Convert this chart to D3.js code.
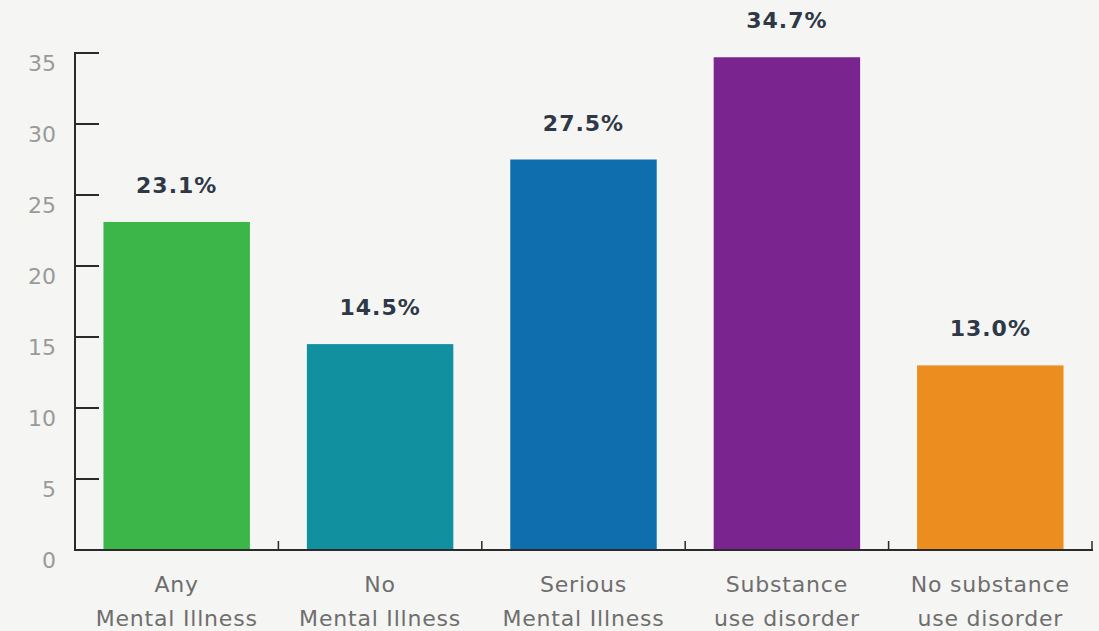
<!DOCTYPE html>
<html>
<head>
<meta charset="utf-8">
<script src="https://cdn.jsdelivr.net/npm/d3@7"></script>
<style>
  html, body { margin: 0; padding: 0; background: #f5f5f3; }
  svg { display: block; }
</style>
</head>
<body>
<div class="svg-container"></div>
<script>
// data
var categories = ['any', 'noMental', 'serious', 'substance', 'noSubstance'];
var labelLine1 = ['Any', 'No', 'Serious', 'Substance', 'No substance'];
var labelLine2 = ['Mental Illness', 'Mental Illness', 'Mental Illness', 'use disorder', 'use disorder'];
var values = [23.1, 14.5, 27.5, 34.7, 13.0];
var barColors = ['#3cb649', '#11909f', '#0f6fae', '#7a2490', '#ec8d1f'];
var yTicks = [0, 5, 10, 15, 20, 25, 30, 35];

function draw() {
  "use strict";
  var width = 1099;
  var height = 631;

  var svg = d3.select('.svg-container')
      .append('svg')
      .attr('width', width)
      .attr('height', height);

  svg.append('rect')
      .attr('width', width)
      .attr('height', height)
      .attr('fill', '#f5f5f3');

  var x = d3.scaleBand()
      .domain(categories)
      .range([75, 1092])
      .paddingInner(0.28)
      .paddingOuter(0.14);

  var y = d3.scaleLinear()
      .domain([0, 35])
      .range([550, 53]);

  var step = x.step();

  //bars
  svg.append('g').attr('class', 'bars')
      .selectAll('rect')
      .data(values)
      .enter().append('rect')
      .attr('x', function(d, i) { return x(categories[i]); })
      .attr('y', function(d) { return y(d); })
      .attr('width', x.bandwidth())
      .attr('height', function(d) { return y(0) - y(d); })
      .attr('fill', function(d, i) { return barColors[i]; });

  //value labels
  svg.append('g').attr('class', 'values')
      .selectAll('text')
      .data(values)
      .enter().append('text')
      .attr('x', function(d, i) { return x(categories[i]) + x.bandwidth() / 2; })
      .attr('y', function(d) { return y(d) - 29; })
      .attr('text-anchor', 'middle')
      .attr('font-family', 'DejaVu Sans, sans-serif')
      .attr('font-weight', 'bold')
      .attr('font-size', 22)
      .attr('letter-spacing', 1)
      .attr('fill', '#2e3846')
      .text(function(d) { return d.toFixed(1) + '%'; });

  //y axis, ticks drawn inward
  var yAxis = svg.append('g').attr('class', 'y-axis');
  yAxis.append('line')
      .attr('x1', 75).attr('x2', 75)
      .attr('y1', y(35) - 1).attr('y2', y(0))
      .attr('stroke', '#2a2a2a')
      .attr('stroke-width', 2);
  yAxis.selectAll('line.tick')
      .data(yTicks)
      .enter().append('line')
      .attr('class', 'tick')
      .attr('x1', 75).attr('x2', 99)
      .attr('y1', function(d) { return y(d); })
      .attr('y2', function(d) { return y(d); })
      .attr('stroke', '#2a2a2a')
      .attr('stroke-width', 2);
  yAxis.selectAll('text')
      .data(yTicks)
      .enter().append('text')
      .attr('x', 56)
      .attr('y', function(d) { return y(d) + 18; })
      .attr('text-anchor', 'end')
      .attr('font-family', 'DejaVu Sans, sans-serif')
      .attr('font-size', 22)
      .attr('fill', '#9a9a9a')
      .text(function(d) { return d; });

  //x axis with small ticks at band edges
  var xAxis = svg.append('g').attr('class', 'x-axis');
  xAxis.append('line')
      .attr('x1', 74).attr('x2', 1093)
      .attr('y1', y(0)).attr('y2', y(0))
      .attr('stroke', '#2a2a2a')
      .attr('stroke-width', 2);
  xAxis.selectAll('line.tick')
      .data(categories)
      .enter().append('line')
      .attr('class', 'tick')
      .attr('x1', function(d) { return x(d) + x.bandwidth() + step * 0.14; })
      .attr('x2', function(d) { return x(d) + x.bandwidth() + step * 0.14; })
      .attr('y1', y(0)).attr('y2', y(0) - 9)
      .attr('stroke', '#2a2a2a')
      .attr('stroke-width', 1.5);

  var catLabels = xAxis.selectAll('text')
      .data(categories)
      .enter().append('text')
      .attr('text-anchor', 'middle')
      .attr('font-family', 'DejaVu Sans, sans-serif')
      .attr('font-size', 22)
      .attr('letter-spacing', 0.8)
      .attr('fill', '#6e6e6e');
  catLabels.append('tspan')
      .attr('x', function(d) { return x(d) + x.bandwidth() / 2; })
      .attr('y', 592)
      .text(function(d, i) { return labelLine1[i]; });
  catLabels.append('tspan')
      .attr('x', function(d) { return x(d) + x.bandwidth() / 2; })
      .attr('y', 626)
      .text(function(d, i) { return labelLine2[i]; });
}

draw();
</script>
</body>
</html>
